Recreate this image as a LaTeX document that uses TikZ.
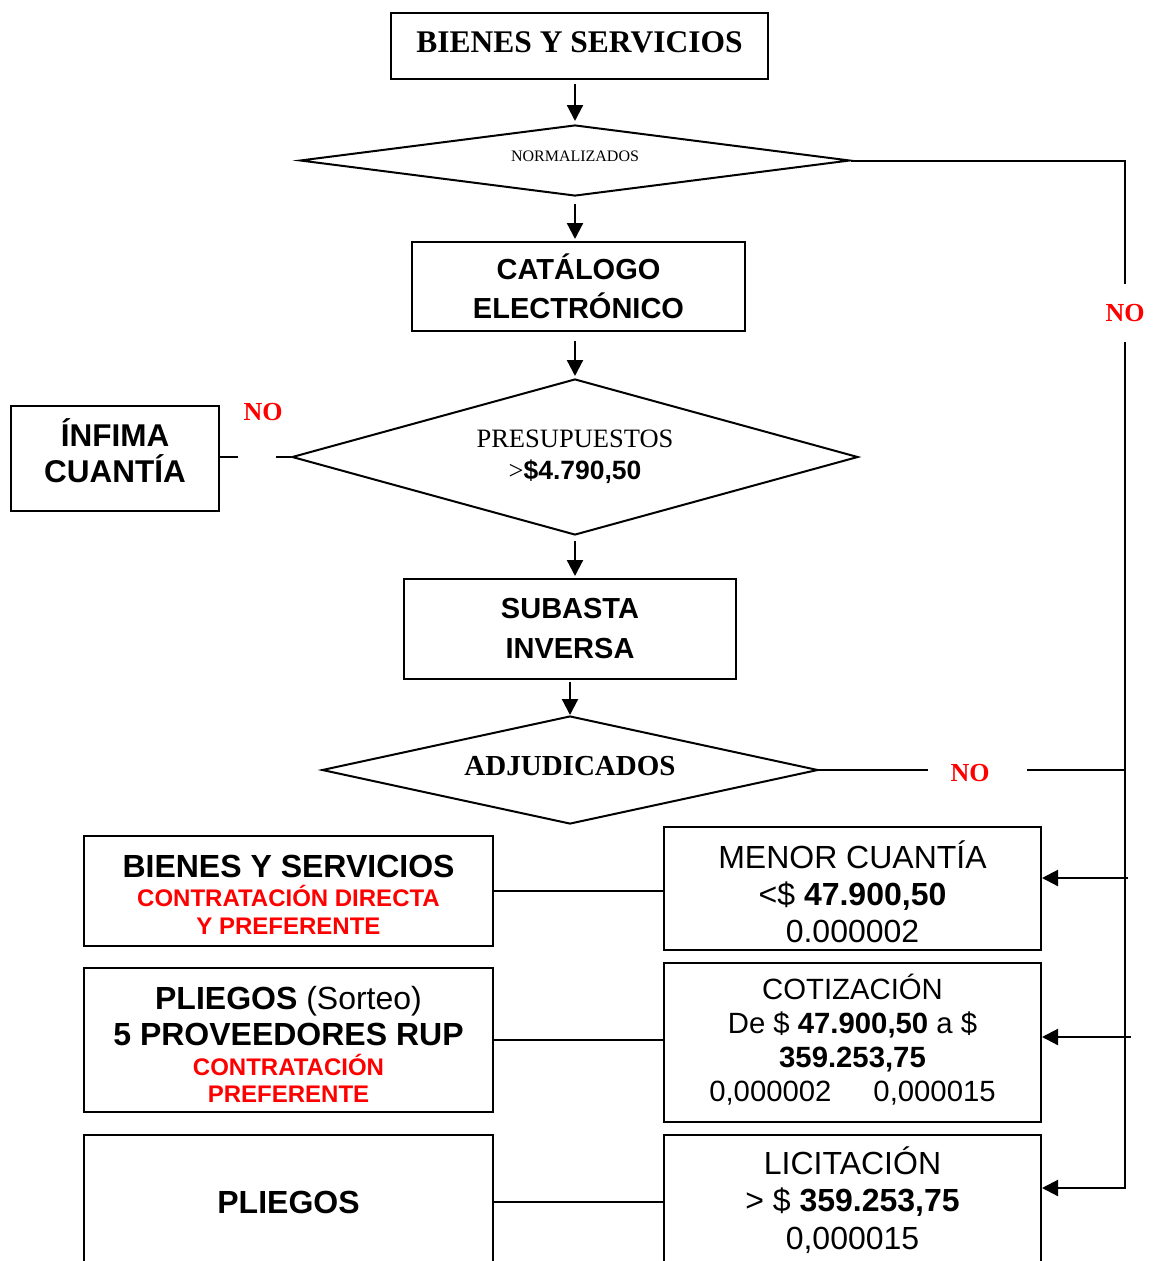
\documentclass[tikz,border=0pt]{standalone}
\usepackage{fontspec}
\setmainfont{Liberation Serif}
\newfontfamily\arial{Liberation Sans}
\usetikzlibrary{shapes,arrows.meta}
\newcommand{\rojo}[1]{{\color{red}\fontsize{24}{28.5}\selectfont #1}}
\newcommand{\alto}[1]{\rule{0pt}{#1}}
\newcommand{\hondo}[1]{\rule[-#1]{0pt}{#1}}
\tikzset{caja/.style={draw, line width=2pt, inner sep=0pt, align=center},
rombo/.style={draw, diamond, line width=2pt, inner sep=0pt, align=center},
flecha/.style={line width=2.2pt, -{Triangle[length=16pt,width=16pt]}},
linea/.style={line width=2pt},
nolbl/.style={text=red, font=\bfseries\fontsize{26}{26}\selectfont, inner sep=0pt}}

\begin{document}
\begin{tikzpicture}[x=1pt,y=-1pt]
\useasboundingbox (0,0) rectangle (1159,1261);
\node[caja, minimum width=377pt, minimum height=66pt, font=\bfseries\fontsize{31.5}{36}\selectfont] (bys) at (579.5,46) {BIENES Y SERVICIOS\hondo{8pt}};
\node[rombo, aspect=7.7, minimum width=550pt, minimum height=71pt, font=\fontsize{16}{18}\selectfont] (norm) at (575,160.5) {NORMALIZADOS\hondo{8pt}};
\node[caja, minimum width=333pt, minimum height=89pt, font=\arial\bfseries\fontsize{29}{39}\selectfont] (cat) at (578.5,286.5) {CATÁLOGO\\ELECTRÓNICO};
\node[rombo, aspect=3.6, minimum width=566pt, minimum height=156pt, font=\fontsize{26.5}{32}\selectfont] (pres) at (575,457) {PRESUPUESTOS\\>{\arial\bfseries \$4.790,50}};
\node[caja, minimum width=208pt, minimum height=105pt, font=\arial\bfseries\fontsize{31.5}{36}\selectfont] (inf) at (115,458.5) {ÍNFIMA\\CUANTÍA\hondo{16pt}};
\node[caja, minimum width=332pt, minimum height=100pt, font=\arial\bfseries\fontsize{29}{40}\selectfont] (sub) at (570,629) {SUBASTA\\INVERSA};
\node[rombo, aspect=4.6, minimum width=496pt, minimum height=108pt, font=\bfseries\fontsize{29}{32}\selectfont] (adj) at (570,770) {ADJUDICADOS\hondo{8pt}};

\node[caja, minimum width=377pt, minimum height=123pt, font=\arial\fontsize{32}{37}\selectfont] (menor) at (852.5,888.5) {\alto{34pt}MENOR CUANTÍA\\<\$ \textbf{47.900,50}\\0.000002};
\node[caja, minimum width=377pt, minimum height=159pt, font=\arial\fontsize{29.3}{34}\selectfont] (cot) at (852.5,1042.5) {COTIZACIÓN\\De \$ \textbf{47.900,50} a \$\\\textbf{359.253,75}\\0,000002\hspace{42pt}0,000015\hondo{9pt}};
\node[caja, anchor=north, minimum width=377pt, minimum height=130pt, font=\arial\fontsize{32}{37.5}\selectfont] (lic) at (852.5,1134) {LICITACIÓN\\> \$ \textbf{359.253,75}\\0,000015};

\node[caja, minimum width=409pt, minimum height=110pt, font=\arial\bfseries\fontsize{32}{28.5}\selectfont] (bys2) at (288.5,891) {\alto{30pt}BIENES Y SERVICIOS\\\rojo{CONTRATACIÓN DIRECTA}\\\rojo{Y PREFERENTE}};
\node[caja, minimum width=409pt, minimum height=144pt, font=\arial\bfseries\fontsize{32}{27}\selectfont] (pl1) at (288.5,1040) {\alto{32pt}PLIEGOS {\mdseries (Sorteo)}\\[6pt]5 PROVEEDORES RUP\\[3pt]\rojo{CONTRATACIÓN}\\\rojo{PREFERENTE}};
\node[caja, anchor=north, minimum width=409pt, minimum height=134pt, font=\arial\bfseries\fontsize{32}{36}\selectfont] (pl2) at (288.5,1134) {PLIEGOS};

\node[nolbl] (noizq) at (263,412) {NO};
\node[nolbl, minimum height=57pt] (nosup) at (1125,313) {NO};
\node[nolbl] (noadj) at (970,773) {NO};

\draw[flecha, shorten <=4pt, shorten >=3pt] (norm.north |- bys.south) -- (norm.north);
\draw[flecha, shorten <=7pt, shorten >=2pt] (norm.south) -- (norm.south |- cat.north);
\draw[flecha, shorten <=9pt, shorten >=2pt] (pres.north |- cat.south) -- (pres.north);
\draw[flecha, shorten <=5pt, shorten >=2pt] (pres.south) -- (pres.south |- sub.north);
\draw[flecha, shorten <=2pt] (adj.north |- sub.south) -- (adj.north);

\coordinate (g3) at (238,457);
\coordinate (g4) at (276,457);
\draw[linea] (g3 -| inf.east) -- (g3);
\draw[linea] (g4) -- (pres.west);

\coordinate (g1) at (928,770);
\coordinate (g2) at (1027,770);
\draw[linea] (adj.east) -- (g1);
\draw[linea] (g2) -- (g2 -| nosup.south);

\coordinate (esq) at (1125,1188);
\coordinate (pm) at (1128,878);
\coordinate (pc) at (1131,1037);
\draw[linea] (norm.east) -| (nosup.north);
\draw[flecha] (nosup.south) -- (esq) -- (esq -| lic.east);
\draw[flecha] (pm) -- (pm -| menor.east);
\draw[flecha] (pc) -- (pc -| cot.east);

\draw[linea] (bys2.east) -- (bys2.east -| menor.west);
\draw[linea] (pl1.east) -- (pl1.east -| cot.west);
\draw[linea] (pl2.east) -- (pl2.east -| lic.west);
\end{tikzpicture}
\end{document}
